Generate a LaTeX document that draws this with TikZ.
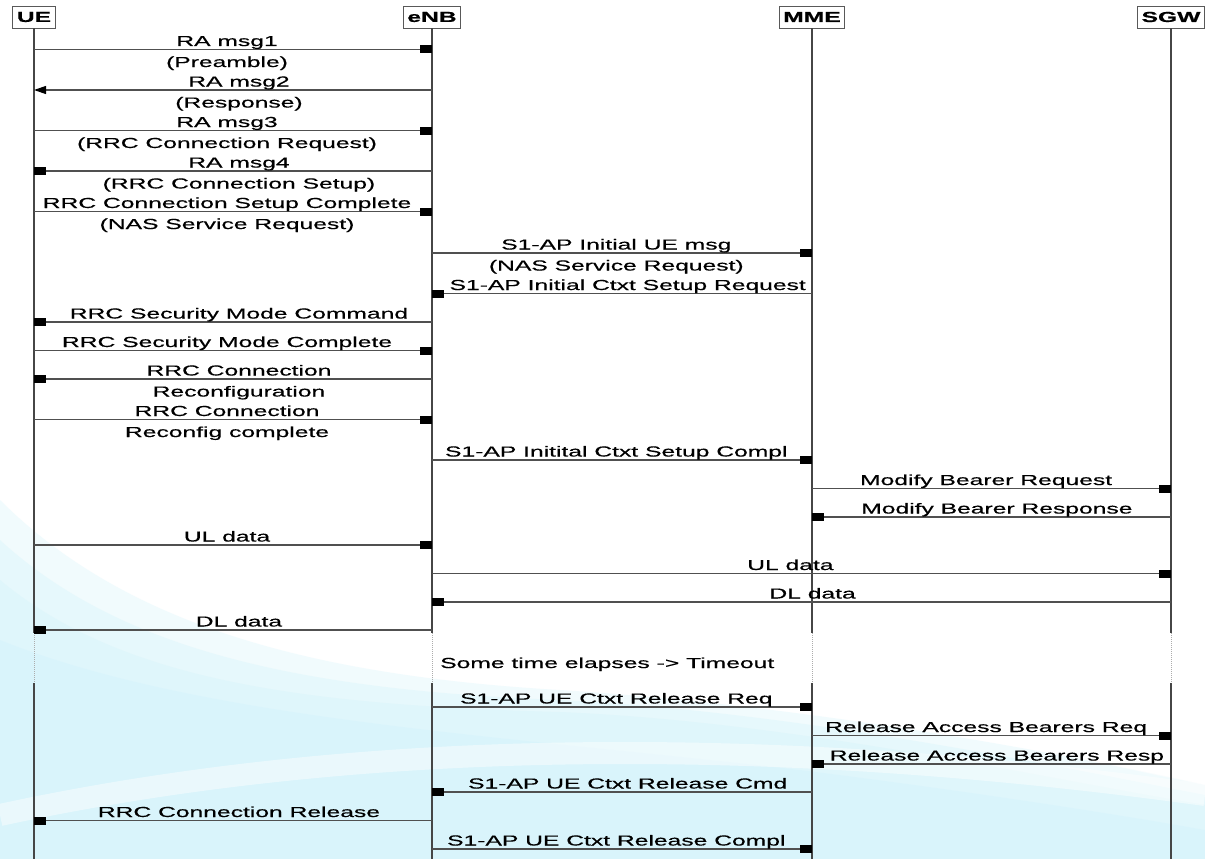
\documentclass[tikz,border=0pt]{standalone}
\usepackage{fontspec}
\setmainfont{Liberation Sans}[FakeBold=0.5]
\newfontfamily\labelfont{Liberation Sans}[FakeBold=0.35]
\usepackage{graphicx}
\usetikzlibrary{arrows.meta}

\definecolor{bgcyan}{RGB}{205,242,251}
\definecolor{lifegray}{RGB}{70,70,70}
\definecolor{msggray}{RGB}{80,80,80}

% labels are set in a horizontally stretched sans
\newcommand{\widetext}[1]{\scalebox{1.7}[1]{#1}}

% one message between two lifelines at height #3, tip style #4
\newcommand{\seqmsg}[5]{%
  \draw[msgline,#4] (#1 |- 0,#3) -- (#2 |- 0,#3)
    node[labup] {\widetext{#5}};}
\newcommand{\seqmsgtwo}[6]{%
  \draw[msgline,#4] (#1 |- 0,#3) -- (#2 |- 0,#3)
    node[labup] {\widetext{#5}}
    node[labdn] {\widetext{#6}};}

\tikzset{
  hdr/.style={draw=black!65, fill=white, line width=0.8pt, minimum height=22pt,
    inner xsep=4pt, inner ysep=0pt, font=\fontsize{14.5}{17}\selectfont\bfseries},
  life/.style={lifegray, line width=1.5pt},
  gapline/.style={gray!65, line width=1pt, densely dotted},
  msgline/.style={msggray, line width=1.2pt},
  sq/.style={-{Square[length=12pt,width=8pt,black]}},
  tri/.style={-{Triangle[length=12pt,width=8pt,black]}},
  labup/.style={pos=0.485, anchor=base, yshift=3.5pt, inner sep=0pt, text=black},
  labdn/.style={pos=0.485, anchor=base, yshift=-17.5pt, inner sep=0pt, text=black},
}

\begin{document}
\begin{tikzpicture}[x=1pt, y=-1pt, font=\labelfont\fontsize{14.5}{17}\selectfont]
\useasboundingbox (0,0) rectangle (1205,859);
\fill[white] (0,0) rectangle (1205,859);

% pale swoosh in the lower part of the page, built from soft layers
\begin{scope}[opacity=0.28]
\fill[bgcyan] (0,500) .. controls (120,620) and (300,675) .. (560,690)
  .. controls (800,705) and (1050,750) .. (1205,785) -- (1205,859) -- (0,859) -- cycle;
\fill[bgcyan] (0,540) .. controls (120,650) and (300,690) .. (560,700)
  .. controls (800,712) and (1050,765) .. (1205,795) -- (1205,859) -- (0,859) -- cycle;
\fill[bgcyan] (0,580) .. controls (120,680) and (300,705) .. (560,712)
  .. controls (800,722) and (1050,780) .. (1205,805) -- (1205,859) -- (0,859) -- cycle;
\fill[bgcyan] (0,640) .. controls (200,720) and (500,735) .. (800,770)
  .. controls (1000,795) and (1150,820) .. (1205,830) -- (1205,859) -- (0,859) -- cycle;
\end{scope}
\draw[white, opacity=0.45, line width=22pt] (0,815) .. controls (300,750) and (700,725) .. (1205,795);
\fill[white, opacity=0.45] (800,705) .. controls (950,725) and (1100,765) .. (1205,785)
  -- (1205,700) -- cycle;

% participants
\node[hdr] (ue)  at (34,17)   {\widetext{UE}};
\node[hdr] (enb) at (432,17)  {\widetext{eNB}};
\node[hdr] (mme) at (812,17)  {\widetext{MME}};
\node[hdr] (sgw) at (1171,17) {\widetext{SGW}};

% lifelines, interrupted by a dotted gap
\foreach \p in {ue,enb,mme,sgw}{
  \draw[life] (\p.south) -- (\p |- 0,633);
  \draw[gapline] (\p |- 0,633) -- (\p |- 0,683);
  \draw[life] (\p |- 0,683) -- (\p |- 0,859);
}

% random access and RRC setup
\seqmsgtwo{ue}{enb}{49.5}{sq}{RA msg1}{(Preamble)}
\seqmsgtwo{enb}{ue}{90}{tri}{RA msg2}{(Response)}
\seqmsgtwo{ue}{enb}{130.5}{sq}{RA msg3}{(RRC Connection Request)}
\seqmsgtwo{enb}{ue}{171}{sq}{RA msg4}{(RRC Connection Setup)}
\seqmsgtwo{ue}{enb}{211.5}{sq}{RRC Connection Setup Complete}{(NAS Service Request)}
\seqmsgtwo{enb}{mme}{253}{sq}{S1-AP Initial UE msg}{(NAS Service Request)}
\seqmsg{mme}{enb}{293.5}{sq}{S1-AP Initial Ctxt Setup Request}

% security and reconfiguration
\seqmsg{enb}{ue}{322}{sq}{RRC Security Mode Command}
\seqmsg{ue}{enb}{350.5}{sq}{RRC Security Mode Complete}
\seqmsgtwo{enb}{ue}{379}{sq}{RRC Connection}{Reconfiguration}
\seqmsgtwo{ue}{enb}{419.5}{sq}{RRC Connection}{Reconfig complete}
\seqmsg{enb}{mme}{460}{sq}{S1-AP Initital Ctxt Setup Compl}
\seqmsg{mme}{sgw}{488.5}{sq}{Modify Bearer Request}
\seqmsg{sgw}{mme}{517}{sq}{Modify Bearer Response}

% user data
\seqmsg{ue}{enb}{545}{sq}{UL data}
\seqmsg{enb}{sgw}{573.5}{sq}{UL data}
\seqmsg{sgw}{enb}{602}{sq}{DL data}
\seqmsg{enb}{ue}{630}{sq}{DL data}

\node[anchor=base west, inner sep=0pt] (timeout) at (440,668)
  {\widetext{Some time elapses -> Timeout}};

% release
\seqmsg{enb}{mme}{707}{sq}{S1-AP UE Ctxt Release Req}
\seqmsg{mme}{sgw}{735.5}{sq}{Release Access Bearers Req}
\seqmsg{sgw}{mme}{764}{sq}{Release Access Bearers Resp}
\seqmsg{mme}{enb}{792}{sq}{S1-AP UE Ctxt Release Cmd}
\seqmsg{enb}{ue}{820.5}{sq}{RRC Connection Release}
\seqmsg{enb}{mme}{849}{sq}{S1-AP UE Ctxt Release Compl}
\end{tikzpicture}
\end{document}
